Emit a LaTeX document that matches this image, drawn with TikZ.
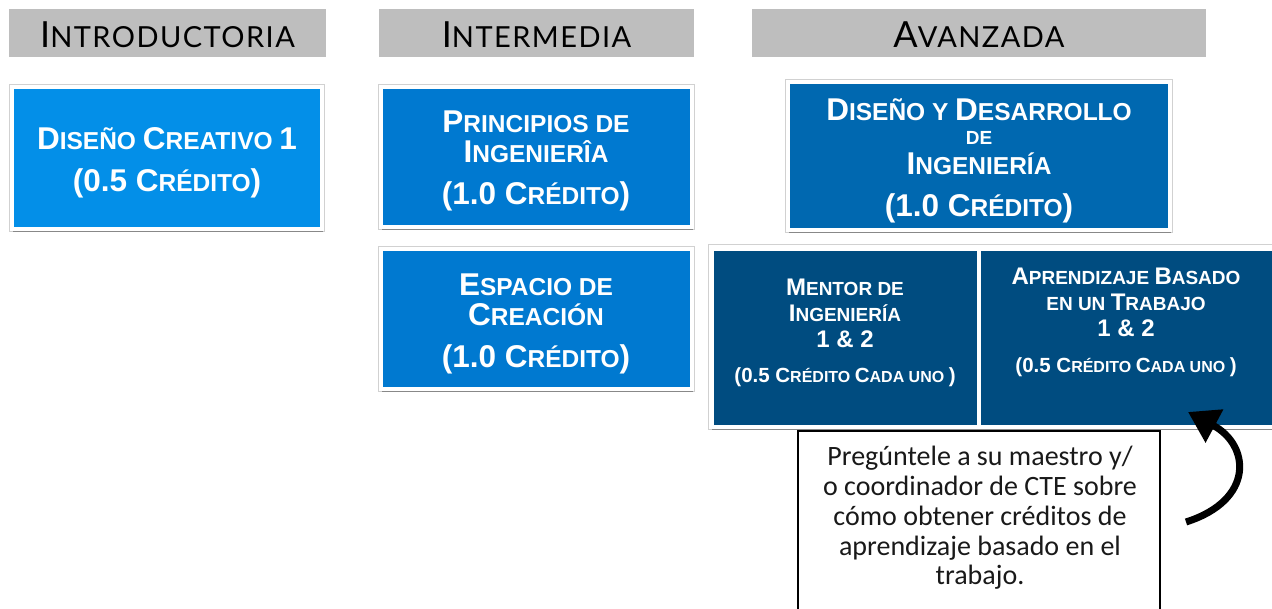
\documentclass[tikz,border=0pt]{standalone}
\usepackage{fontspec}
\setmainfont{Liberation Sans}
\newfontfamily\hdrfont{Lato}[LetterSpace=5]
\newfontfamily\notefont{Carlito}
\usetikzlibrary{shadows,arrows.meta}
\definecolor{hdrgray}{RGB}{190,190,190}
\definecolor{blueA}{RGB}{3,143,232}
\definecolor{blueB}{RGB}{0,121,208}
\definecolor{blueC}{RGB}{0,104,176}
\definecolor{blueD}{RGB}{0,76,128}
\def\lgsz{31.5}\def\smsz{24.5}
\newcommand\Lg[1]{{\fontsize{\lgsz}{\lgsz}\selectfont #1}}
\newcommand\Sm[1]{{\fontsize{\smsz}{\smsz}\selectfont #1}}
\tikzset{
  hdr/.style={fill=hdrgray, minimum height=48pt, inner sep=0pt},
  hdrtxt/.style={anchor=base, inner sep=0pt, font=\hdrfont},
  course/.style={draw=white, line width=4pt, inner sep=0pt,
     preaction={draw=black!18, line width=6pt},
     drop shadow={shadow xshift=1pt, shadow yshift=-3pt, opacity=.35, fill=black}},
  ln/.style={anchor=base, inner sep=0pt, text=white, font=\bfseries},
  note/.style={draw=black, line width=2.6pt, fill=white, inner sep=0pt},
  notetxt/.style={anchor=base, inner sep=0pt, font=\notefont\fontsize{28}{28}\selectfont, text=black!90},
}
\begin{document}
\begin{tikzpicture}[x=1pt,y=-1pt]
\useasboundingbox (0,0) rectangle (1272,609);
% headers
\node[hdr, minimum width=317pt] (h1) at (167.5,33) {};
\node[hdr, minimum width=315pt] (h2) at (536.5,33) {};
\node[hdr, minimum width=454pt] (h3) at (979,33) {};
\node[hdrtxt] (h1t) at (167.5,48) {{\fontsize{36}{36}\selectfont I}{\fontsize{29}{29}\selectfont NTRODUCTORIA}};
\node[hdrtxt] (h2t) at (536.5,48) {{\fontsize{36}{36}\selectfont I}{\fontsize{29}{29}\selectfont NTERMEDIA}};
\node[hdrtxt] (h3t) at (979,48) {{\fontsize{36}{36}\selectfont A}{\fontsize{29}{29}\selectfont VANZADA}};
% course boxes
\node[course, fill=blueA, minimum width=310pt, minimum height=142pt] (c1) at (167,158) {};
\node[course, fill=blueB, minimum width=311pt, minimum height=140pt] (c2) at (536,157) {};
\node[course, fill=blueB, minimum width=311pt, minimum height=140pt] (c3) at (536,319) {};
\node[course, fill=blueC, minimum width=382pt, minimum height=148pt] (c4) at (979,156) {};
\node[course, fill=white, minimum width=564pt, minimum height=180pt] (fr) at (993,337) {};
\node[fill=blueD, minimum width=263pt, minimum height=174pt, inner sep=0pt] (c5) at (845.5,338) {};
\node[fill=blueD, minimum width=292pt, minimum height=174pt, inner sep=0pt] (c6) at (1127,338) {};
% box texts
\node[ln] (c1a) at (167,150) {\Lg{D}\Sm{ISEÑO }\Lg{C}\Sm{REATIVO }\Lg{1}};
\node[ln] (c1b) at (167,192) {\Lg{(0.5 C}\Sm{RÉDITO}\Lg{)}};
\node[ln] (c2a) at (536,133) {\Lg{P}\Sm{RINCIPIOS DE}};
\node[ln] (c2b) at (536,163) {\Lg{I}\Sm{NGENIERÎA}};
\node[ln] (c2c) at (536,205) {\Lg{(1.0 C}\Sm{RÉDITO}\Lg{)}};
\node[ln] (c3a) at (536,296) {\Lg{E}\Sm{SPACIO DE}};
\node[ln] (c3b) at (536,326) {\Lg{C}\Sm{REACIÓN}};
\node[ln] (c3c) at (536,368) {\Lg{(1.0 C}\Sm{RÉDITO}\Lg{)}};
\node[ln] (c4a) at (979,121) {\Lg{D}\Sm{ISEÑO Y }\Lg{D}\Sm{ESARROLLO}};
\node[ln] (c4b) at (979,145) {\fontsize{19}{19}\selectfont DE};
\node[ln] (c4c) at (979,175) {\Lg{I}\Sm{NGENIERÍA}};
\node[ln] (c4d) at (979,217) {\Lg{(1.0 C}\Sm{RÉDITO}\Lg{)}};
\def\lgsz{24}\def\smsz{19}
\node[ln] (c5a) at (845,296) {\Lg{M}\Sm{ENTOR DE}};
\node[ln] (c5b) at (845,322) {\Lg{I}\Sm{NGENIERÍA}};
\node[ln] (c5c) at (845,348) {\Lg{1 \& 2}};
\node[ln] (c6a) at (1126,285) {\Lg{A}\Sm{PRENDIZAJE }\Lg{B}\Sm{ASADO}};
\node[ln] (c6b) at (1126,311) {\Sm{EN UN }\Lg{T}\Sm{RABAJO}};
\node[ln] (c6c) at (1126,337) {\Lg{1 \& 2}};
\def\lgsz{20.5}\def\smsz{16}
\node[ln] (c5d) at (845,383) {\Lg{(0.5 C}\Sm{RÉDITO }\Lg{C}\Sm{ADA UNO }\Lg{)}};
\node[ln] (c6d) at (1126,373) {\Lg{(0.5 C}\Sm{RÉDITO }\Lg{C}\Sm{ADA UNO }\Lg{)}};
% note
\node[note, minimum width=362pt, minimum height=200pt] (nb) at (979,531) {};
\node[notetxt] (n1) at (980,465) {Pregúntele a su maestro y/};
\node[notetxt] (n2) at (980,495) {o coordinador de CTE sobre};
\node[notetxt] (n3) at (980,525) {cómo obtener créditos de};
\node[notetxt] (n4) at (980,555) {aprendizaje basado en el};
\node[notetxt] (n5) at (980,584) {trabajo.};
% arrow
\coordinate (as) at (1186,522);
\coordinate (ae) at (1188,412);
\draw[line width=7pt, -{Triangle[length=30pt,width=36pt]}] (as) .. controls (1255,500) and (1250,445) .. (ae);
\end{tikzpicture}
\end{document}
